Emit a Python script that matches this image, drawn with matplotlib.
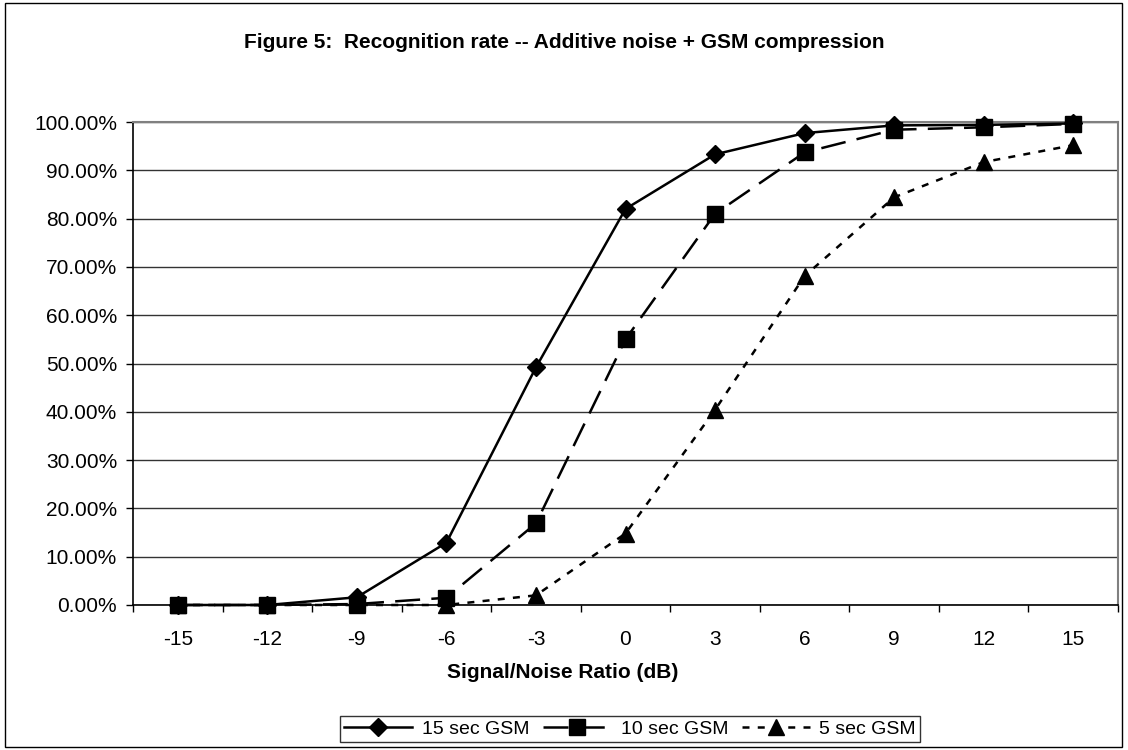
import matplotlib
matplotlib.use("Agg")
import matplotlib.pyplot as plt
from matplotlib.patches import Rectangle
import numpy as np

snr_labels = ["-15", "-12", "-9", "-6", "-3", "0", "3", "6", "9", "12", "15"]
rate_15 = [0.0, 0.0, 1.6, 12.9, 49.2, 82.0, 93.3, 97.7, 99.3, 99.4, 99.7]
rate_10 = [0.0, 0.0, 0.2, 1.5, 16.9, 55.0, 81.0, 93.7, 98.4, 98.9, 99.6]
rate_5 = [0.0, 0.0, 0.0, 0.0, 2.0, 14.8, 40.4, 68.1, 84.4, 91.7, 95.2]
series_names = ["15 sec GSM", "10 sec GSM", "5 sec GSM"]

plt.rcParams['font.family'] = ['Liberation Sans', 'DejaVu Sans']

fig = plt.figure(figsize=(11.28, 7.5), dpi=100)
fig.patch.set_facecolor('white')
fig.add_artist(Rectangle((5/1128, 3/750), 1117/1128, 744/750, transform=fig.transFigure,
                         fill=False, edgecolor='black', linewidth=1.0))

ax = fig.add_axes([133/1128, 1 - 605/750, (1118 - 133)/1128, (605 - 122)/750])

x = np.arange(len(snr_labels))

styles = [
    dict(ls='-', marker='D', ms=9),
    dict(ls=(0, (10, 4.5)), marker='s', ms=11),
    dict(ls=(0, (2.8, 3.3)), marker='^', ms=11),
]
data = [rate_15, rate_10, rate_5]
handles = []
for vals, st, name in zip(data, styles, series_names):
    h, = ax.plot(x, vals, linestyle=st['ls'], linewidth=1.8, marker=st['marker'],
                 ms=st['ms'], color='black', zorder=4, clip_on=False, label=name)
    handles.append(h)

ax.set_xlim(-0.5, len(snr_labels) - 0.5)
ax.set_ylim(0, 100)
ax.set_yticks(np.arange(0, 101, 10))
ax.set_yticklabels([f"{v:.2f}%" for v in np.arange(0, 101, 10)], fontsize=15)
ax.yaxis.grid(True, color='#333333', linewidth=1.0)
ax.set_axisbelow(True)

ax.set_xticks(np.arange(-0.5, len(snr_labels), 1.0))
ax.set_xticklabels([])
ax.set_xticks(x, minor=True)
ax.set_xticklabels(snr_labels, minor=True, fontsize=15)
ax.tick_params(axis='x', which='major', direction='out', length=5, width=1, color='black')
ax.tick_params(axis='x', which='minor', length=0, pad=18)
ax.tick_params(axis='y', direction='out', length=5, width=1, pad=6.5)

for side in ['top', 'right']:
    ax.spines[side].set_color('#808080')
    ax.spines[side].set_linewidth(1.5)
for side in ['left', 'bottom']:
    ax.spines[side].set_color('black')
    ax.spines[side].set_linewidth(1.2)

fig.text(564/1128, 1 - 43/750, "Figure 5:  Recognition rate -- Additive noise + GSM compression",
         ha='center', va='center', fontsize=15, fontweight='bold')
fig.text(563/1128, 1 - 673/750, "Signal/Noise Ratio (dB)",
         ha='center', va='center', fontsize=15, fontweight='bold')

leg = fig.legend(handles, series_names, loc='center', bbox_to_anchor=(630/1128, 1 - 729/750),
                 ncol=3, frameon=True, fancybox=False, fontsize=14, handlelength=3.5,
                 handletextpad=0.5, columnspacing=0.7, borderpad=0.2, borderaxespad=0)
leg.get_frame().set_edgecolor('black')
leg.get_frame().set_linewidth(1.0)

fig.savefig("out.png", dpi=100, facecolor='white')
